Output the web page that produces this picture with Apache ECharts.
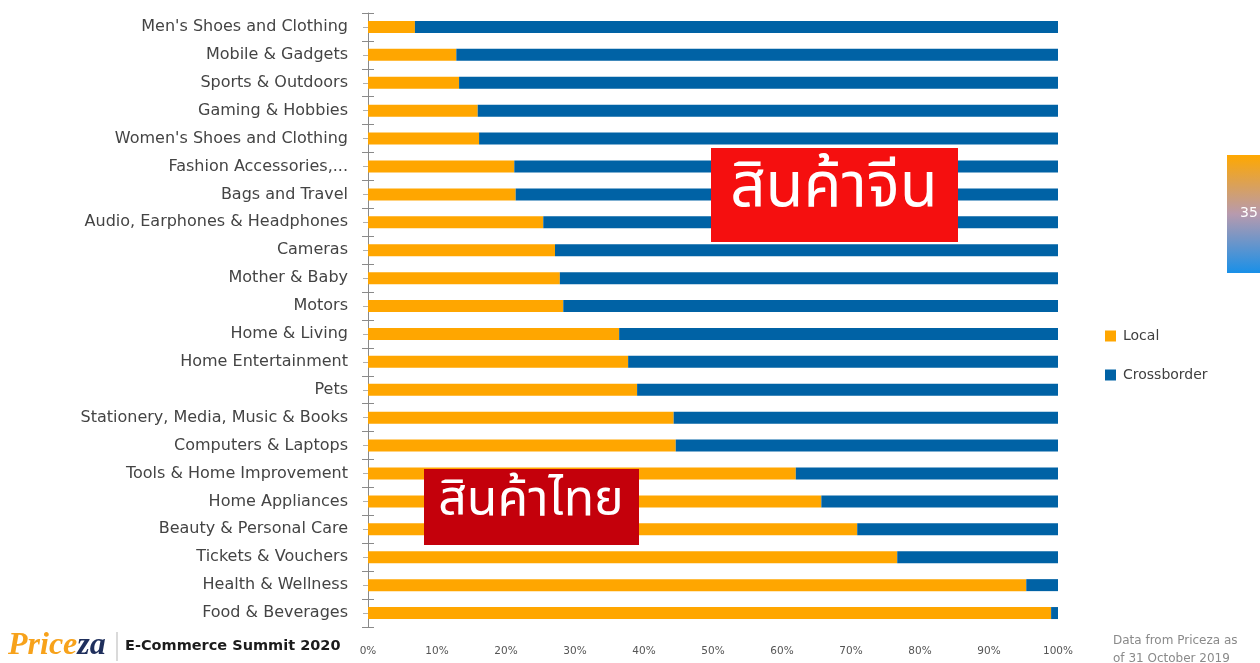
<!DOCTYPE html>
<html>
<head>
<meta charset="utf-8">
<script src="https://cdn.jsdelivr.net/npm/echarts@6/dist/echarts.min.js"></script>
<style>
html,body{margin:0;padding:0;background:#fff;}
#chart{width:1260px;height:663px;}
</style>
</head>
<body>
<div id="chart"></div>
<script>
const categories = ["Men's Shoes and Clothing","Mobile & Gadgets","Sports & Outdoors","Gaming & Hobbies","Women's Shoes and Clothing","Fashion Accessories,...","Bags and Travel","Audio, Earphones & Headphones","Cameras","Mother & Baby","Motors","Home & Living","Home Entertainment","Pets","Stationery, Media, Music & Books","Computers & Laptops","Tools & Home Improvement","Home Appliances","Beauty & Personal Care","Tickets & Vouchers","Health & Wellness","Food & Beverages"];
const localValues = [6.8, 12.8, 13.2, 15.9, 16.1, 21.2, 21.4, 25.4, 27.1, 27.8, 28.3, 36.4, 37.7, 39.0, 44.3, 44.6, 62.0, 65.7, 70.9, 76.7, 95.4, 99.0];
const crossborderValues = [93.2, 87.2, 86.8, 84.1, 83.9, 78.8, 78.6, 74.6, 72.9, 72.2, 71.7, 63.6, 62.3, 61.0, 55.7, 55.4, 38.0, 34.3, 29.1, 23.3, 4.6, 1.0];
const xTicks = [0, 10, 20, 30, 40, 50, 60, 70, 80, 90, 100];
const seriesNames = ['Local', 'Crossborder'];
const chinaLabel = 'สินค้าจีน';
const thaiLabel = 'สินค้าไทย';

const thaiFont = '"Noto Sans Thai", "Noto Sans Thai UI", Loma, Garuda, "Noto Sans", "DejaVu Sans", sans-serif';
const chart = echarts.init(document.getElementById('chart'));
const tickColor = '#8a8a8a';
const baseY = {
  type: 'category', data: categories, inverse: true, position: 'left'
};
chart.setOption({
  animation: false,
  backgroundColor: '#ffffff',
  grid: { left: 368, right: 202, top: 13, bottom: 36, containLabel: false },
  legend: {
    orient: 'vertical', left: 1100, top: 324,
    itemWidth: 11, itemHeight: 11, itemGap: 25, icon: 'rect',
    textStyle: { fontFamily: '"DejaVu Sans", sans-serif', fontSize: 14, color: '#404040', padding: [0,0,0,2] },
    data: seriesNames
  },
  xAxis: {
    type: 'value', min: xTicks[0], max: xTicks[xTicks.length-1], interval: 10,
    axisLine: { show: false }, axisTick: { show: false }, splitLine: { show: false },
    axisLabel: { formatter: '{value}%', fontFamily: '"DejaVu Sans", sans-serif', fontSize: 10.5, color: '#555', margin: 19 }
  },
  yAxis: [
    Object.assign({}, baseY, {
      axisLine: { show: true, lineStyle: { color: tickColor, width: 1 } },
      axisTick: { show: true, length: 6, alignWithLabel: false, lineStyle: { color: tickColor } },
      axisLabel: { fontFamily: '"DejaVu Sans", sans-serif', fontSize: 16, color: '#444444', margin: 20 },
      splitLine: { show: false }
    }),
    Object.assign({}, baseY, {
      axisLine: { show: false },
      axisTick: { show: true, inside: true, length: 6, alignWithLabel: false, lineStyle: { color: tickColor } },
      axisLabel: { show: false }, splitLine: { show: false }
    }),
    Object.assign({}, baseY, {
      axisLine: { show: false },
      axisTick: { show: true, length: 5, alignWithLabel: true, lineStyle: { color: '#b0b0b0' } },
      axisLabel: { show: false }, splitLine: { show: false }
    })
  ],
  series: [
    { name: seriesNames[0], type: 'bar', stack: 'total', yAxisIndex: 0, barWidth: 12, data: localValues, itemStyle: { color: '#FFA600' } },
    { name: seriesNames[1], type: 'bar', stack: 'total', yAxisIndex: 0, barWidth: 12, data: crossborderValues, itemStyle: { color: '#0062A5' } }
  ],
  graphic: [
    { type: 'rect', shape: { x: 711, y: 148, width: 247, height: 94 }, style: { fill: '#F50F0F' }, z: 100 },
    { type: 'text', x: 834, y: 193, style: { text: chinaLabel, fill: '#fff', font: '62px ' + thaiFont, align: 'center', verticalAlign: 'middle' }, z: 101 },
    { type: 'rect', shape: { x: 424, y: 469, width: 215, height: 76 }, style: { fill: '#C4000B' }, z: 100 },
    { type: 'text', x: 531, y: 505, style: { text: thaiLabel, fill: '#fff', font: '50px ' + thaiFont, align: 'center', verticalAlign: 'middle' }, z: 101 },
    { type: 'rect', shape: { x: 1227, y: 155, width: 40, height: 118 },
      style: { fill: new echarts.graphic.LinearGradient(0, 0, 0, 1, [{ offset: 0, color: '#FFA800' }, { offset: 0.5, color: '#B79AAE' }, { offset: 1, color: '#1990E8' }]) }, z: 100 },
    { type: 'text', x: 1240, y: 213, style: { text: '35', fill: '#ffffff', font: '14px "DejaVu Sans", sans-serif', verticalAlign: 'middle' }, z: 101 },
    { type: 'text', x: 8, y: 646, style: { text: '{a|Price}{b|za}', verticalAlign: 'middle',
      rich: { a: { fontFamily: '"Liberation Serif", serif', fontStyle: 'italic', fontWeight: 'bold', fontSize: 32, fill: '#F7A21B' },
              b: { fontFamily: '"Liberation Serif", serif', fontStyle: 'italic', fontWeight: 'bold', fontSize: 32, fill: '#1F2F5C' } } }, z: 100 },
    { type: 'line', shape: { x1: 117, y1: 632, x2: 117, y2: 661 }, style: { stroke: '#b5b5b5', lineWidth: 1 }, z: 100 },
    { type: 'text', x: 125, y: 646, style: { text: 'E-Commerce Summit 2020', fill: '#1c1c1c', font: 'bold 14.5px "DejaVu Sans", sans-serif', verticalAlign: 'middle' }, z: 100 },
    { type: 'text', x: 1113, y: 641, style: { text: 'Data from Priceza as', fill: '#8a8a8a', font: '12px "DejaVu Sans", sans-serif', verticalAlign: 'middle' }, z: 100 },
    { type: 'text', x: 1113, y: 659, style: { text: 'of 31 October 2019', fill: '#8a8a8a', font: '12px "DejaVu Sans", sans-serif', verticalAlign: 'middle' }, z: 100 }
  ]
});
</script>
</body>
</html>
